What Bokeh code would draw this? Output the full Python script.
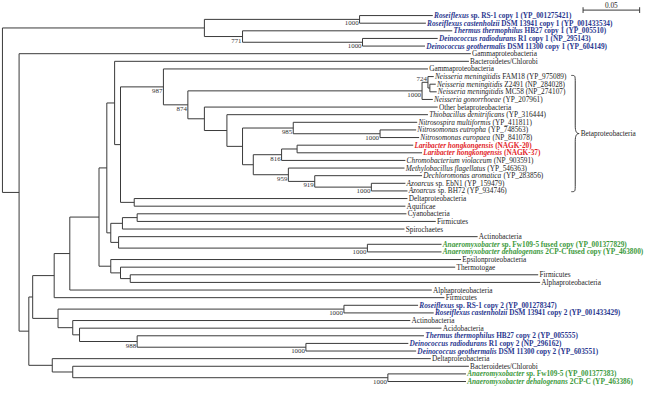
from bokeh.plotting import figure
from bokeh.models import ColumnDataSource, Range1d
from bokeh.embed import file_html
from bokeh.resources import INLINE
from bokeh.core.properties import value

# ---------------- data ----------------
leaf_species = [
    "Roseiflexus", "Roseiflexus castenholzii", "Thermus thermophilus",
    "Deinococcus radiodurans", "Deinococcus geothermalis",
    "", "", "",
    "Neisseria meningitidis", "Neisseria meningitidis", "Neisseria meningitidis",
    "Neisseria gonorrhoeae",
    "", "Thiobacillus denitrificans", "Nitrosospira multiformis",
    "Nitrosomonas eutropha", "Nitrosomonas europaea",
    "Laribacter hongkongensis", "Laribacter hongkongensis",
    "Chromobacterium violaceum", "Methylobacillus flagellatus",
    "Dechloromonas aromatica", "Azoarcus", "Azoarcus",
    "", "", "", "", "", "",
    "Anaeromyxobacter", "Anaeromyxobacter dehalogenans",
    "", "", "", "", "", "",
    "Roseiflexus", "Roseiflexus castenholzii", "", "",
    "Thermus thermophilus", "Deinococcus radiodurans", "Deinococcus geothermalis",
    "", "", "Anaeromyxobacter", "Anaeromyxobacter dehalogenans"]

leaf_rest = [
    "sp. RS-1 copy 1 (YP_001275421)", "DSM 13941 copy 1 (YP_001433534)",
    "HB27 copy 1 (YP_005510)", "R1 copy 1 (NP_295143)", "DSM 11300 copy 1 (YP_604149)",
    "Gammaproteobacteria", "Bacteroidetes/Chlorobi", "Gammaproteobacteria",
    "FAM18 (YP_975089)", "Z2491 (NP_284028)", "MC58 (NP_274107)", "(YP_207961)",
    "Other betaproteobacteria", "(YP_316444)", "(YP_411811)", "(YP_748563)", "(NP_841078)",
    "(NAGK-20)", "(NAGK-37)", "(NP_903591)", "(YP_546363)",
    "(YP_283856)", "sp. EbN1 (YP_159479)", "sp. BH72 (YP_934746)",
    "Deltaproteobacteria", "Aquificae", "Cyanobacteria", "Firmicutes", "Spirochaetes",
    "Actinobacteria",
    "sp. Fw109-5 fused copy (YP_001377829)", "2CP-C fused copy (YP_463800)",
    "Epsilonproteobacteria", "Thermotogae", "Firmicutes", "Alphaproteobacteria",
    "Alphaproteobacteria", "Firmicutes",
    "sp. RS-1 copy 2 (YP_001278347)", "DSM 13941 copy 2 (YP_001433429)",
    "Actinobacteria", "Acidobacteria",
    "HB27 copy 2 (YP_005555)", "R1 copy 2 (NP_296162)", "DSM 11300 copy 2 (YP_603551)",
    "Deltaproteobacteria", "Bacteroidetes/Chlorobi",
    "sp. Fw109-5 (YP_001377383)", "2CP-C (YP_463386)"]

leaf_group = (["blue"] * 5 + ["black"] * 12 + ["red"] * 2 + ["black"] * 11 +
              ["green"] * 2 + ["black"] * 6 + ["blue"] * 2 + ["black"] * 2 +
              ["blue"] * 3 + ["black"] * 2 + ["green"] * 2)

# distance of each leaf tip from the root
leaf_depth = [
    0.3802, 0.3741, 0.3974, 0.3845, 0.3733,
    0.4138, 0.4121, 0.3759,
    0.3810, 0.3828, 0.3836, 0.3802,
    0.3845, 0.3759, 0.3664, 0.3655, 0.3681,
    0.3629, 0.3707, 0.3560, 0.3552,
    0.3707, 0.3560, 0.3578,
    0.3578, 0.3560, 0.3569, 0.3828, 0.3552, 0.4198,
    0.3879, 0.3879,
    0.4052, 0.4000, 0.4733, 0.4750, 0.3793, 0.3905,
    0.3672, 0.3810, 0.3603, 0.3879,
    0.3724, 0.3586, 0.3655,
    0.3784, 0.4121, 0.4095, 0.4095]

# internal nodes: name, distance from root, children, bootstrap support
node_names = ["root", "TOP", "RSp1", "N771", "DEp1", "A", "B", "C", "E", "F", "G", "H",
              "L", "N", "O", "P", "NEI", "N724", "NZM", "Q", "R", "S", "N985", "NIT",
              "T", "N816", "LAR", "N959", "N919", "AZO", "K", "M", "V", "X", "W", "ANF",
              "I", "J", "Y", "Z", "RSp2", "AA", "AB", "N988", "DEp2", "D", "AC", "AN"]
node_depth = [0.0, 0.1784, 0.3155, 0.2121, 0.3181, 0.0147, 0.0233, 0.0267, 0.0457,
              0.0595, 0.0853, 0.0922, 0.0991, 0.1043, 0.1422, 0.1638, 0.3707, 0.3759,
              0.3776, 0.1784, 0.1983, 0.2121, 0.2569, 0.3336, 0.2216, 0.2466, 0.2603,
              0.2526, 0.2759, 0.3259, 0.1164, 0.0957, 0.1060, 0.1190, 0.1026, 0.3224,
              0.0957, 0.1043, 0.1129, 0.0491, 0.3017, 0.0621, 0.0681, 0.1190, 0.2681,
              0.0440, 0.0621, 0.3405]
node_children = [["TOP", "A"], ["RSp1", "N771"], [0, 1], [2, "DEp1"], [3, 4],
                 [5, "B"], ["C", "D"], ["E", "Z"], ["F", 37], ["G", 36], ["H", "I"],
                 ["L", "M"], [6, "N"], ["O", "K"], [7, "P"], ["NEI", "Q"],
                 ["N724", 11], [8, "NZM"], [9, 10], [12, "R"], [13, "S"],
                 ["N985", "T"], [14, "NIT"], [15, 16], ["N816", "N959"],
                 ["LAR", 19], [17, 18], [20, "N919"], [21, "AZO"], [22, 23],
                 [24, 25], ["V", "W"], ["X", 28], [26, 27], [29, "ANF"], [30, 31],
                 [32, "J"], [33, "Y"], [34, 35], ["RSp2", "AA"], [38, 39],
                 [40, "AB"], [41, "N988"], [42, "DEp2"], [43, 44], [45, "AC"],
                 [46, "AN"], [47, 48]]
node_support = [None, None, 1000, 771, 1000, None, None, None, None, None, None, None,
                None, None, 987, 874, 1000, 724, None, None, None, None, 985, 1000,
                None, 816, None, 959, 919, 1000, None, None, None, None, None, 1000,
                None, None, None, None, 1000, None, None, 988, 1000, None, None, 1000]

group_labels = ["Betaproteobacteria"]
group_first = [8]
group_last = [23]

scale_length = 0.05
scale_label = "0.05"

# ---------------- layout / style ----------------
W, H = 645, 386
PX_PER_UNIT = 1160.0          # reference pixels per unit of distance
X0_REF, Y0_REF, DY_REF = 2.0, 15.7, 7.94
x_start = (0 - X0_REF) / PX_PER_UNIT
x_end = (661 - X0_REF) / PX_PER_UNIT
y_top = (0 - Y0_REF) / DY_REF
y_bot = (402 - Y0_REF) / DY_REF

FONT = "Liberation Serif"
FS = 7.3
BS_FS = 6.9
LINE = "#3a3a3a"
COLORS = {"blue": "#2b3990", "red": "#e3262a", "green": "#3d9a3d", "black": "#1e1e1e"}

TI = dict(zip("abcdefghijklmnopqrstuvwxyz",
              [500, 500, 444, 500, 444, 278, 500, 500, 278, 278, 444, 278, 722, 500, 500,
               500, 500, 389, 389, 278, 500, 444, 667, 444, 444, 389]))
TI.update({"R": 611, "T": 556, "D": 722, "N": 667, "A": 611, "L": 556, "C": 667,
           "M": 833, " ": 250})
TBI = dict(zip("abcdefghijklmnopqrstuvwxyz",
               [500, 500, 444, 500, 444, 333, 500, 556, 278, 278, 500, 278, 778, 556, 500,
                500, 500, 389, 389, 278, 556, 444, 667, 500, 444, 389]))
TBI.update({"R": 667, "T": 611, "D": 722, "N": 722, "A": 667, "L": 611, "C": 667,
            "M": 889, " ": 250})


def em(s, table):
    return sum(table.get(c, 500) for c in s) / 1000.0


# ---------------- tree geometry ----------------
ndepth = dict(zip(node_names, node_depth))
nkids = dict(zip(node_names, node_children))
ypos = {}


def get_y(c):
    if isinstance(c, int):
        return float(c)
    if c not in ypos:
        ys = [get_y(k) for k in nkids[c]]
        ypos[c] = (ys[0] + ys[-1]) / 2.0
    return ypos[c]


def get_x(c):
    return leaf_depth[c] if isinstance(c, int) else ndepth[c]


sx0, sy0, sx1, sy1 = [], [], [], []
for name in node_names:
    x = ndepth[name]
    ys = [get_y(k) for k in nkids[name]]
    sx0.append(x); sy0.append(min(ys)); sx1.append(x); sy1.append(max(ys))
    for k in nkids[name]:
        sx0.append(x); sy0.append(get_y(k)); sx1.append(get_x(k)); sy1.append(get_y(k))

p = figure(width=W, height=H, x_range=Range1d(x_start, x_end),
           y_range=Range1d(y_bot, y_top), toolbar_location=None,
           output_backend="svg", x_axis_type=None, y_axis_type=None,
           min_border=0)
p.grid.visible = False
p.outline_line_color = None
p.background_fill_color = "white"

p.segment(x0=sx0, y0=sy0, x1=sx1, y1=sy1, line_color=LINE, line_width=1)

# ---------------- leaf labels ----------------
it = dict(x=[], y=[], text=[], color=[], style=[])
ro = dict(x=[], y=[], text=[], color=[], style=[], xoff=[])
GAP = 1.2
for i in range(len(leaf_rest)):
    col = COLORS[leaf_group[i]]
    bold = leaf_group[i] != "black"
    sp = leaf_species[i]
    off = GAP
    if sp:
        it["x"].append(leaf_depth[i]); it["y"].append(i); it["text"].append(sp)
        it["color"].append(col); it["style"].append("bold italic" if bold else "italic")
        off = GAP + FS * (em(sp, TBI if bold else TI) + 0.25)
    ro["x"].append(leaf_depth[i]); ro["y"].append(i); ro["text"].append(leaf_rest[i])
    ro["color"].append(col); ro["style"].append("bold" if bold else "normal")
    ro["xoff"].append(off)

p.text(x="x", y="y", text="text", source=ColumnDataSource(it), x_offset=GAP,
       text_color="color", text_font_style="style", text_font=value(FONT),
       text_font_size=f"{FS}px", text_baseline="middle", text_align="left")
p.text(x="x", y="y", text="text", source=ColumnDataSource(ro), x_offset="xoff",
       text_color="color", text_font_style="style", text_font=value(FONT),
       text_font_size=f"{FS}px", text_baseline="middle", text_align="left")

# ---------------- bootstrap values ----------------
bs = dict(x=[], y=[], text=[], yoff=[])
for name, s in zip(node_names, node_support):
    if s is None:
        continue
    bs["x"].append(ndepth[name]); bs["y"].append(get_y(name)); bs["text"].append(str(s))
    bs["yoff"].append(-3.5 if name == "N724" else 4.0)
p.text(x="x", y="y", text="text", source=ColumnDataSource(bs), x_offset=-1.0,
       y_offset="yoff", text_color="#333333", text_font=value(FONT),
       text_font_size=f"{BS_FS}px", text_baseline="middle", text_align="right")

# ---------------- group brace ----------------
bx_end = (585 - X0_REF) / PX_PER_UNIT
bx_mid = (589 - X0_REF) / PX_PER_UNIT
bx_tip = (593 - X0_REF) / PX_PER_UNIT
for lab, g0, g1 in zip(group_labels, group_first, group_last):
    yt, yb = g0 - 0.15, g1 + 0.1
    ym = (yt + yb) / 2.0
    r = 1.0
    p.bezier(x0=[bx_end, bx_mid, bx_mid, bx_end],
             y0=[yt, ym - r, ym + r, yb],
             x1=[bx_mid, bx_tip, bx_tip, bx_mid],
             y1=[yt + r, ym, ym, yb - r],
             cx0=[bx_mid, bx_mid, bx_mid, bx_mid],
             cy0=[yt, ym - 0.3 * r, ym + 0.3 * r, yb],
             cx1=[bx_mid, bx_mid + 0.3 * (bx_tip - bx_mid), bx_mid + 0.3 * (bx_tip - bx_mid), bx_mid],
             cy1=[yt, ym, ym, yb],
             line_color=LINE, line_width=1)
    p.segment(x0=[bx_mid, bx_mid], y0=[yt + r, ym + r], x1=[bx_mid, bx_mid],
              y1=[ym - r, yb - r], line_color=LINE, line_width=1)
    p.text(x=[bx_tip], y=[ym], text=[lab], x_offset=1.5, text_color=COLORS["black"],
           text_font=value(FONT), text_font_size=f"{FS}px", text_baseline="middle")

# ---------------- scale bar ----------------
sb_x0 = (597 - X0_REF) / PX_PER_UNIT
sb_y = (10 - Y0_REF) / DY_REF
tick = 3.0 / DY_REF
p.segment(x0=[sb_x0, sb_x0, sb_x0 + scale_length],
          y0=[sb_y, sb_y - tick, sb_y - tick],
          x1=[sb_x0 + scale_length, sb_x0, sb_x0 + scale_length],
          y1=[sb_y, sb_y + tick, sb_y + tick], line_color=LINE, line_width=1)
p.text(x=[sb_x0 + scale_length / 2], y=[sb_y], text=[scale_label], y_offset=-2,
       text_color=COLORS["black"], text_font=value(FONT), text_font_size=f"{FS}px",
       text_baseline="bottom", text_align="center")

open("out.html", "w").write(file_html(p, INLINE))
